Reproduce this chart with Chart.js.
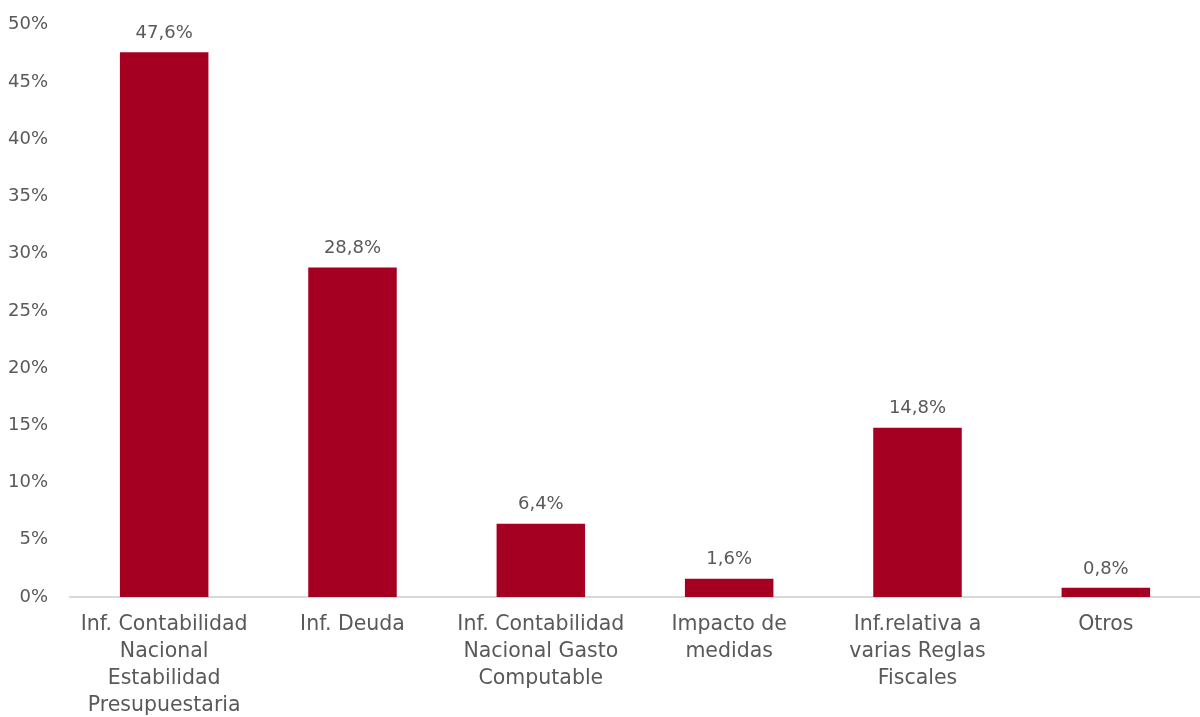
<!DOCTYPE html>
<html>
<head>
<meta charset="utf-8">
<script src="https://cdn.jsdelivr.net/npm/chart.js@4"></script>
<style>
  html, body { margin: 0; padding: 0; background: #fff; }
  #wrap { width: 1200px; height: 717px; }
</style>
</head>
<body>
<div id="wrap"><canvas id="chart" width="1200" height="717"></canvas></div>
<script>
const categories = [
  ['Inf. Contabilidad', 'Nacional', 'Estabilidad', 'Presupuestaria'],
  ['Inf. Deuda'],
  ['Inf. Contabilidad', 'Nacional Gasto', 'Computable'],
  ['Impacto de', 'medidas'],
  ['Inf.relativa a', 'varias Reglas', 'Fiscales'],
  ['Otros']
];
const shares = [47.6, 28.8, 6.4, 1.6, 14.8, 0.8];
const yTicks = [0, 5, 10, 15, 20, 25, 30, 35, 40, 45, 50];

const textColor = '#595959';
const barColor = '#A50021';
const fontFamily = '"DejaVu Sans", sans-serif';

// value labels above each bar, Spanish decimal comma
const barLabels = {
  id: 'barLabels',
  afterDatasetsDraw(chart) {
    const ctx = chart.ctx;
    const meta = chart.getDatasetMeta(0);
    ctx.save();
    ctx.fillStyle = textColor;
    ctx.font = '18px ' + fontFamily;
    ctx.textAlign = 'center';
    ctx.textBaseline = 'bottom';
    meta.data.forEach((bar, i) => {
      const txt = shares[i].toFixed(1).replace('.', ',') + '%';
      ctx.fillText(txt, bar.x, bar.y - 10);
    });
    ctx.restore();
  }
};

new Chart(document.getElementById('chart'), {
  type: 'bar',
  data: {
    labels: categories,
    datasets: [{
      data: shares,
      backgroundColor: barColor,
      categoryPercentage: 1,
      barPercentage: 0.47
    }]
  },
  options: {
    responsive: false,
    animation: false,
    layout: { padding: { top: 3, right: 0, left: 0, bottom: 0 } },
    plugins: { legend: { display: false }, tooltip: { enabled: false } },
    scales: {
      y: {
        min: 0,
        max: 50,
        afterBuildTicks(scale) { scale.ticks = yTicks.map(v => ({ value: v })); },
        afterFit(scale) { scale.width = 70; },
        grid: { display: false },
        border: { display: false },
        ticks: {
          color: textColor,
          font: { family: fontFamily, size: 18 },
          padding: 14,
          callback: v => v + '%'
        }
      },
      x: {
        afterFit(scale) { scale.height = 120; },
        grid: { display: false },
        border: { color: '#d9d9d9', width: 2 },
        ticks: {
          color: textColor,
          font: { family: fontFamily, size: 20.5, lineHeight: 1.32 },
          padding: 6,
          maxRotation: 0,
          autoSkip: false
        }
      }
    }
  },
  plugins: [barLabels]
});
</script>
</body>
</html>
